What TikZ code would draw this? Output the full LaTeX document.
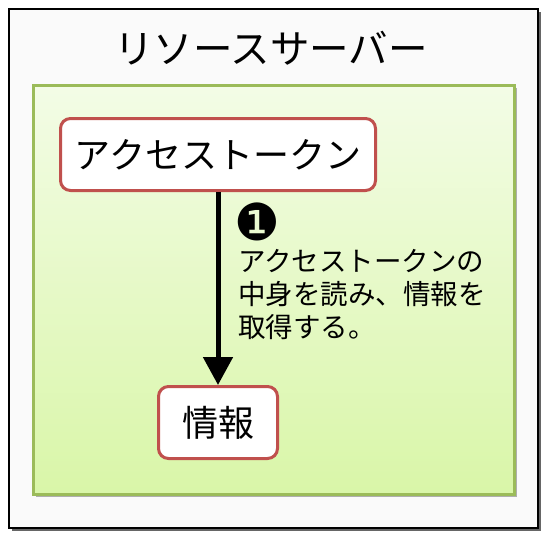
\documentclass[tikz,border=0pt]{standalone}
\usepackage{fontspec}
\newfontfamily\jp{Noto Sans CJK JP}
\newfontfamily\dv{DejaVu Sans}
\usetikzlibrary{arrows.meta,shadows}
\definecolor{grn}{HTML}{9BBB59}
\definecolor{rd}{HTML}{C0504D}
\definecolor{zonetop}{HTML}{F3FCE6}
\definecolor{zonebot}{HTML}{D9F6A8}
\definecolor{paper}{HTML}{FAFAFA}
\tikzset{
  serverbox/.style={draw=black, line width=2.8pt, fill=paper, inner sep=0pt,
    minimum width=529pt, minimum height=519pt,
    drop shadow={shadow xshift=3pt, shadow yshift=-3pt, fill=black, opacity=0.6}},
  zonebox/.style={draw=grn, line width=3pt, top color=zonetop, bottom color=zonebot,
    inner sep=0pt, minimum width=481pt, minimum height=409pt,
    drop shadow={shadow xshift=2.5pt, shadow yshift=-2.5pt, fill=black, opacity=0.3}},
  itembox/.style={draw=rd, line width=3pt, fill=white, rounded corners=10pt,
    inner sep=0pt, minimum height=72pt, font=\jp\fontsize{36}{40}\selectfont},
  titletext/.style={font=\jp\fontsize{39.5}{42}\selectfont, inner sep=0pt},
  notetext/.style={font=\jp\fontsize{27.5}{33}\selectfont, align=left, inner sep=0pt},
  numtext/.style={font=\dv\fontsize{51}{51}\selectfont, inner sep=0pt},
  flow/.style={line width=5pt, -{Triangle[width=29pt,length=28pt]}},
}
\begin{document}
\begin{tikzpicture}[x=1pt,y=-1pt]
\useasboundingbox (0,0) rectangle (546,538);
\fill[white] (0,0) rectangle (546,538);
\node[serverbox, anchor=north west] (server) at (7.5,7.5) {};
\node[titletext] (title) at (271,48) {リソースサーバー};
\node[zonebox, anchor=north west] (zone) at (31.5,84) {};
\node[itembox, minimum width=315pt] (token) at (218,154.5) {アクセストークン};
\node[itembox, minimum width=119pt] (info) at (218,422.5) {情報};
\draw[flow] (token.south) -- (info.north);
\node[numtext] (num) at (257.5,221.5) {❶};
\node[notetext, anchor=north west] (note) at (238,249) {アクセストークンの\\中身を読み、情報を\\取得する。};
\end{tikzpicture}
\end{document}
